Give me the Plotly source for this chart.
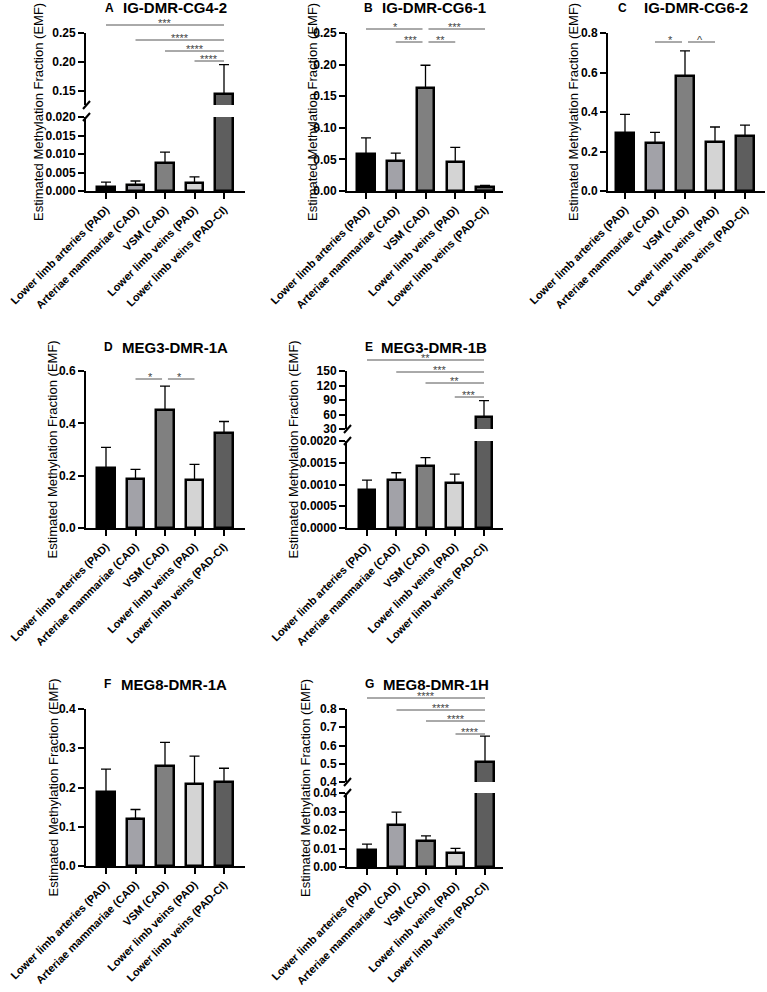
import plotly.graph_objects as go

W, H = 767, 992
FONT = "Liberation Sans, Arial, sans-serif"

categories = ["Lower limb arteries (PAD)", "Arteriae mammariae (CAD)", "VSM (CAD)",
              "Lower limb veins (PAD)", "Lower limb veins (PAD-CI)"]
bar_colors = ["#000000", "#a2a2a8", "#808080", "#d4d4d4", "#5e5e5e"]

# ---- data (mean, upper error) ----
a_mean = [0.0011, 0.0016, 0.0076, 0.0022, 0.144]
a_err = [0.0013, 0.0011, 0.0029, 0.0016, 0.051]
b_mean = [0.058, 0.0475, 0.163, 0.046, 0.0065]
b_err = [0.026, 0.0125, 0.036, 0.023, 0.0025]
c_mean = [0.292, 0.241, 0.582, 0.247, 0.277]
c_err = [0.096, 0.056, 0.128, 0.077, 0.057]
d_mean = [0.230, 0.186, 0.450, 0.182, 0.364]
d_err = [0.078, 0.038, 0.092, 0.061, 0.043]
e_mean = [0.00088, 0.0011, 0.00143, 0.00104, 54.0]
e_err = [0.00022, 0.00017, 0.00019, 0.00020, 34.6]
f_mean = [0.189, 0.121, 0.254, 0.208, 0.214]
f_err = [0.058, 0.023, 0.061, 0.072, 0.035]
g_mean = [0.0092, 0.0227, 0.0142, 0.0077, 0.511]
g_err = [0.0032, 0.0070, 0.0026, 0.0024, 0.140]

# significance comparisons (i, j, label)
a_sig = [(0, 4, "***"), (1, 4, "****"), (2, 4, "****"), (3, 4, "****")]
b_sig = [(0, 2, "*"), (2, 4, "***"), (1, 2, "***"), (2, 3, "**")]
c_sig = [(1, 2, "*"), (2, 3, "^")]
d_sig = [(1, 2, "*"), (2, 3, "*")]
e_sig = [(0, 4, "**"), (1, 4, "***"), (2, 4, "**"), (3, 4, "***")]
f_sig = []
g_sig = [(0, 4, "****"), (1, 4, "****"), (2, 4, "****"), (3, 4, "****")]

panels = [
    dict(letter="A", name="IG-DMR-CG4-2", mean=a_mean, err=a_err, sig=a_sig,
         low_range=[0, 0.02], low_ticks=[0, 0.005, 0.01, 0.015, 0.02], low_fmt=".3f",
         up_range=[0.125, 0.25], up_ticks=[0.15, 0.2, 0.25], up_fmt=".2f"),
    dict(letter="B", name="IG-DMR-CG6-1", mean=b_mean, err=b_err, sig=b_sig,
         low_range=[0, 0.25], low_ticks=[0, 0.05, 0.1, 0.15, 0.2, 0.25], low_fmt=".2f"),
    dict(letter="C", name="IG-DMR-CG6-2", mean=c_mean, err=c_err, sig=c_sig,
         low_range=[0, 0.8], low_ticks=[0, 0.2, 0.4, 0.6, 0.8], low_fmt=".1f"),
    dict(letter="D", name="MEG3-DMR-1A", mean=d_mean, err=d_err, sig=d_sig,
         low_range=[0, 0.6], low_ticks=[0, 0.2, 0.4, 0.6], low_fmt=".1f"),
    dict(letter="E", name="MEG3-DMR-1B", mean=e_mean, err=e_err, sig=e_sig,
         low_range=[0, 0.002], low_ticks=[0, 0.0005, 0.001, 0.0015, 0.002], low_fmt=".4f",
         up_range=[30, 150], up_ticks=[30, 60, 90, 120, 150], up_fmt="d"),
    dict(letter="F", name="MEG8-DMR-1A", mean=f_mean, err=f_err, sig=f_sig,
         low_range=[0, 0.4], low_ticks=[0, 0.1, 0.2, 0.3, 0.4], low_fmt=".1f"),
    dict(letter="G", name="MEG8-DMR-1H", mean=g_mean, err=g_err, sig=g_sig,
         low_range=[0, 0.04], low_ticks=[0, 0.01, 0.02, 0.03, 0.04], low_fmt=".2f",
         up_range=[0.4, 0.8], up_ticks=[0.4, 0.5, 0.6, 0.7, 0.8], up_fmt=".1f"),
]

# ---- geometry in pixels ----
geo = {
    "A": dict(ax=86, xend=245, b0=106, b4=224, low=(117, 191), up=(33, 105),
              ty=8, name_x=174.5, letter_x=109.5, ytx=38, sig_y=[25, 40, 51, 61]),
    "B": dict(ax=347, xend=503, b0=366, b4=485, low=(33, 191), up=None,
              ty=8, name_x=434.5, letter_x=368.5, ytx=312, sig_y=[29, 29, 42, 42]),
    "C": dict(ax=608, xend=765, b0=625, b4=745, low=(33, 191), up=None,
              ty=8, name_x=695.5, letter_x=622, ytx=573, sig_y=[42, 42]),
    "D": dict(ax=86, xend=245, b0=106, b4=224, low=(371, 528), up=None,
              ty=347, name_x=175, letter_x=108, ytx=52, sig_y=[379, 379]),
    "E": dict(ax=347, xend=503, b0=367, b4=484, low=(441, 528), up=(371, 429),
              ty=347, name_x=434, letter_x=368.5, ytx=293, sig_y=[360, 372, 383, 397]),
    "F": dict(ax=86, xend=245, b0=106, b4=224, low=(709, 866), up=None,
              ty=684, name_x=174, letter_x=107.5, ytx=53, sig_y=[]),
    "G": dict(ax=347, xend=503, b0=367, b4=485, low=(793, 867), up=(709, 782),
              ty=684, name_x=436, letter_x=369, ytx=305, sig_y=[698, 710, 721, 734]),
}


def px(p):
    return p / W


def py(p):
    return 1 - p / H


fig = go.Figure()
layout = {}
shapes = []
annotations = []
yi = 0

axis_common = dict(showline=True, linewidth=2, linecolor="black", ticks="outside",
                   ticklen=6, tickwidth=2, tickcolor="black", showgrid=False,
                   zeroline=False, fixedrange=True, automargin=False)

for xi, P in enumerate(panels, start=1):
    G = geo[P["letter"]]
    xname = "x" if xi == 1 else f"x{xi}"
    xkey = "xaxis" if xi == 1 else f"xaxis{xi}"
    sp = (G["b4"] - G["b0"]) / 4.0
    xr = [-(G["b0"] - G["ax"]) / sp, 4 + (G["xend"] - G["b4"]) / sp]

    yi += 1
    ylow = "y" if yi == 1 else f"y{yi}"
    ylowkey = "yaxis" if yi == 1 else f"yaxis{yi}"
    layout[xkey] = dict(axis_common, domain=[px(G["ax"]), min(1, px(G["xend"]))], range=xr,
                        anchor=ylow, tickvals=list(range(5)), ticktext=categories,
                        tickangle=-45,
                        tickfont=dict(family=FONT, size=11, color="black", weight="bold"))
    layout[ylowkey] = dict(axis_common, domain=[py(G["low"][1]), py(G["low"][0])],
                           range=P["low_range"], anchor=xname, tickvals=P["low_ticks"],
                           tickformat=P["low_fmt"],
                           tickfont=dict(family=FONT, size=12, color="black", weight="bold"))
    yaxes = [ylow]
    if G["up"] is not None:
        yi += 1
        yup = f"y{yi}"
        layout[f"yaxis{yi}"] = dict(axis_common, domain=[py(G["up"][1]), py(G["up"][0])],
                                    range=P["up_range"], anchor=xname, tickvals=P["up_ticks"],
                                    tickformat=P["up_fmt"],
                                    tickfont=dict(family=FONT, size=12, color="black", weight="bold"))
        yaxes.append(yup)
        # break marks
        for yb in (G["up"][1], G["low"][0]):
            shapes.append(dict(type="line", xref="paper", yref="paper",
                               x0=px(G["ax"] - 3), y0=py(yb + 4), x1=px(G["ax"] + 4), y1=py(yb - 4),
                               line=dict(color="black", width=2)))

    for ya in yaxes:
        fig.add_trace(go.Bar(
            x=list(range(5)), y=P["mean"], xaxis=xname, yaxis=ya, width=0.58,
            marker=dict(color=bar_colors, line=dict(color="black", width=2.5)),
            error_y=dict(type="data", array=P["err"], arrayminus=[0] * 5, symmetric=False,
                         color="black", thickness=1.3, width=5),
            showlegend=False, hoverinfo="skip"))

    # titles
    annotations.append(dict(text=P["letter"], x=px(G["letter_x"]), y=py(G["ty"]), xref="paper",
                            yref="paper", showarrow=False, xanchor="center", yanchor="middle",
                            font=dict(family=FONT, size=12, color="black", weight="bold")))
    annotations.append(dict(text=P["name"], x=px(G["name_x"]), y=py(G["ty"]), xref="paper",
                            yref="paper", showarrow=False, xanchor="center", yanchor="middle",
                            font=dict(family=FONT, size=15, color="black", weight="bold")))
    # y title
    top = G["up"][0] if G["up"] is not None else G["low"][0]
    annotations.append(dict(text="Estimated Methylation Fraction (EMF)", x=px(G["ytx"]),
                            y=py((top + G["low"][1]) / 2), xref="paper", yref="paper",
                            showarrow=False, textangle=-90, xanchor="center", yanchor="middle",
                            font=dict(family=FONT, size=13, color="black")))
    # significance
    for k, (i, j, lab) in enumerate(P["sig"]):
        lvl = G["sig_y"][k]
        x0, x1 = float(i), float(j)
        for m, (i2, j2, _) in enumerate(P["sig"]):
            if m != k and G["sig_y"][m] == lvl:
                if i2 == j or j2 == j:
                    x1 -= 0.1
                if j2 == i or i2 == i:
                    x0 += 0.1
        shapes.append(dict(type="line", xref=xname, yref="paper", x0=x0, x1=x1,
                           y0=py(lvl), y1=py(lvl), line=dict(color="#555555", width=1)))
        annotations.append(dict(text=lab, x=(i + j) / 2, y=py(lvl - 2), xref=xname, yref="paper",
                                showarrow=False, xanchor="center", yanchor="middle",
                                font=dict(family=FONT, size=11, color="#444444")))

fig.update_layout(template="none", width=W, height=H, autosize=False,
                  margin=dict(l=0, r=0, t=0, b=0, pad=0),
                  paper_bgcolor="white", plot_bgcolor="white", shapes=shapes,
                  annotations=annotations, bargap=0, **layout)
fig.write_html("out.html", config={"displayModeBar": False},
               post_script="document.body.style.margin='0';document.body.style.overflow='hidden';")
